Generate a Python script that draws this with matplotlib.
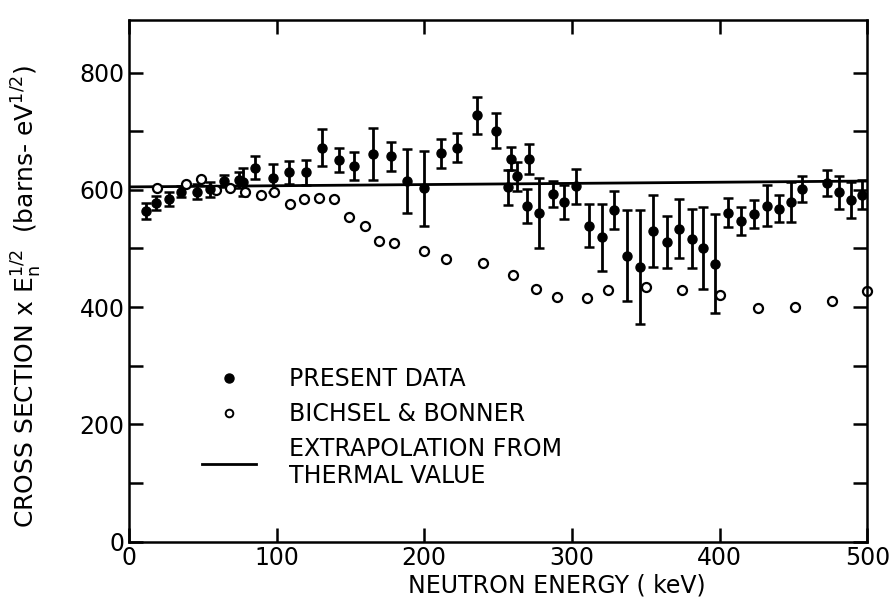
import matplotlib
matplotlib.use("Agg")
from matplotlib import pyplot as plt
from matplotlib.lines import Line2D
import numpy as np

# present data (filled points with error bars)
present_e = [11.5, 18.3, 27.3, 35.2, 45.8, 54.9, 64.5, 74.7, 77.4, 85.3,
             97.3, 108.6, 120.0, 131.0, 142.5, 152.6, 165.5, 177.5, 188.6, 199.9,
             211.6, 222.4, 235.5, 248.6, 256.6, 258.8, 263.0, 269.4, 271.2, 277.8,
             287.5, 294.7, 302.8, 311.9, 320.2, 328.6, 337.1, 346.2, 355.2, 364.3,
             372.2, 381.2, 389.1, 397.0, 405.5, 414.6, 423.0, 432.0, 440.0, 448.3,
             455.7, 473.0, 481.2, 489.2, 496.6]
present_val = [564, 578, 584, 597, 597, 601, 615, 617, 614, 638,
               620, 630, 630, 672, 651, 640, 661, 657, 615, 603,
               662, 672, 727, 701, 604, 653, 623, 573, 653, 561,
               593, 580, 606, 539, 519, 566, 488, 469, 530, 511,
               534, 517, 501, 474, 561, 547, 559, 573, 568, 580,
               601, 611, 596, 583, 592]
present_err = [14, 12, 12, 10, 13, 13, 10, 14, 24, 19,
               24, 20, 21, 31, 20, 24, 45, 25, 55, 64,
               25, 25, 32, 30, 30, 20, 25, 29, 26, 60,
               22, 29, 30, 37, 57, 32, 78, 97, 61, 44,
               51, 50, 70, 84, 25, 24, 24, 35, 23, 34,
               22, 22, 28, 31, 25]

# Bichsel & Bonner (open circles)
bb_e = [19.2, 38.6, 48.8, 58.9, 68.4, 78.6, 89.2, 98.4, 109.0, 118.8,
        129.0, 139.0, 149.3, 160.0, 169.6, 179.5, 199.9, 214.8, 239.6, 259.9,
        275.7, 290.2, 310.0, 324.7, 350.0, 374.4, 400.4, 425.7, 451.0, 476.0,
        500.0]
bb_val = [603, 610, 618, 600, 603, 597, 591, 597, 576, 585,
          586, 585, 554, 538, 513, 510, 495, 482, 475, 454,
          431, 418, 415, 430, 434, 429, 421, 398, 400, 410,
          427]

# extrapolation from thermal value
extrap_e = [0, 500]
extrap_val = [605, 615]

plt.rcParams["font.family"] = "DejaVu Sans"

fig = plt.figure(figsize=(8.95, 5.98), dpi=100)
ax = fig.add_axes([0.144, 0.094, 0.825, 0.873])

ax.plot(extrap_e, extrap_val, color="black", linewidth=2.0)
ax.errorbar(present_e, present_val, yerr=present_err, fmt="o", color="black",
            markersize=6.5, elinewidth=2.0, capsize=3.5, capthick=1.8,
            clip_on=False)
ax.plot(bb_e, bb_val, "o", markerfacecolor="white", markeredgecolor="black",
        markersize=6.5, markeredgewidth=1.6, linestyle="none", clip_on=False)

ax.set_xlim(0, 500)
ax.set_ylim(0, 890)
ax.set_xticks([0, 100, 200, 300, 400, 500])
ax.set_yticks([0, 200, 400, 600, 800])
ax.set_yticks([100, 300, 500, 700], minor=True)

for s in ax.spines.values():
    s.set_linewidth(1.8)

ax.tick_params(axis="both", which="both", direction="in", length=10, width=1.8,
               top=True, right=True, labelsize=17)
ax.tick_params(axis="x", pad=3)
ax.tick_params(axis="y", pad=3)

ax.set_xlabel("NEUTRON ENERGY ( keV)", fontsize=17)
ax.xaxis.set_label_coords(0.58, -0.06)
ax.set_ylabel(r"CROSS SECTION x E$_\mathregular{n}^\mathregular{1/2}$  "
              r"(barns- eV$^\mathregular{1/2}$)", fontsize=18)
ax.yaxis.set_label_coords(-0.115, 0.47)

handles = [
    Line2D([], [], marker="o", color="black", linestyle="none", markersize=6.5),
    Line2D([], [], marker="o", markerfacecolor="white", markeredgecolor="black",
           markeredgewidth=1.4, linestyle="none", markersize=5.5),
    Line2D([], [], color="black", linewidth=2.0),
]
labels = ["PRESENT DATA", "BICHSEL & BONNER", "EXTRAPOLATION FROM\nTHERMAL VALUE"]
ax.legend(handles, labels, loc="upper left", bbox_to_anchor=(0.07, 0.375),
          frameon=False, fontsize=17, handlelength=2.3, handletextpad=1.4,
          labelspacing=0.45)

fig.savefig("out.png", dpi=100)
